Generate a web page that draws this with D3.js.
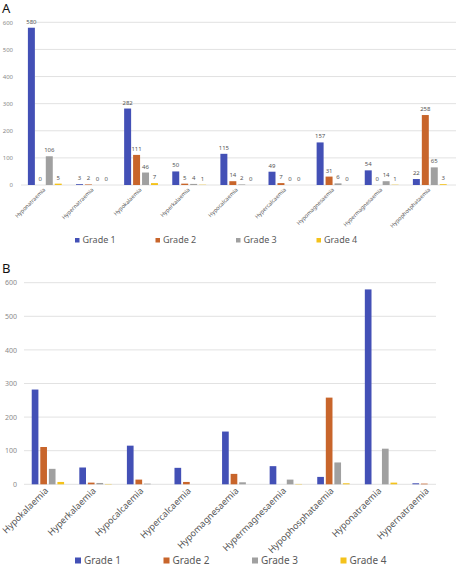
<!DOCTYPE html>
<html>
<head>
<meta charset="utf-8">
<script src="https://cdn.jsdelivr.net/npm/d3@7"></script>
<style>
  body { margin: 0; background: #fff; }
  svg { display: block; font-family: "Noto Sans", sans-serif; }
</style>
</head>
<body>
<div id="wrapper"></div>
<script>
const grades = ["Grade 1", "Grade 2", "Grade 3", "Grade 4"]
const colors = ["#4350b6", "#c8652b", "#a0a0a0", "#f4c21b"]

// panel A
const categoriesA = ["Hyponatraemia", "Hypernatraemia", "Hypokalaemia", "Hyperkalaemia",
  "Hypocalcaemia", "Hypercalcaemia", "Hypomagnesaemia", "Hypermagnesaemia", "Hypophosphataemia"]
const grade1A = [580, 3, 282, 50, 115, 49, 157, 54, 22]
const grade2A = [0, 2, 111, 5, 14, 7, 31, 0, 258]
const grade3A = [106, 0, 46, 4, 2, 0, 6, 14, 65]
const grade4A = [5, 0, 7, 1, 0, 0, 0, 1, 3]

// panel B (same values, new order)
const categoriesB = ["Hypokalaemia", "Hyperkalaemia", "Hypocalcaemia", "Hypercalcaemia",
  "Hypomagnesaemia", "Hypermagnesaemia", "Hypophosphataemia", "Hyponatraemia", "Hypernatraemia"]
const grade1B = [282, 50, 115, 49, 157, 54, 22, 580, 3]
const grade2B = [111, 5, 14, 7, 31, 0, 258, 0, 2]
const grade3B = [46, 4, 2, 0, 6, 14, 65, 106, 0]
const grade4B = [7, 1, 0, 0, 0, 1, 3, 5, 0]

const yTicks = [0, 100, 200, 300, 400, 500, 600]

const width = 457
const height = 566

const svg = d3.select("#wrapper")
  .append("svg")
  .attr("width", width)
  .attr("height", height)

const drawPanel = (opts) => {
  const { letter, letterY, cats, series, xRange, xPad, yRange, gridX, labels,
    tickFont, tickRight, catFont, catOffset, legendY, legendX, legendFont, legendBox } = opts

  const rows = cats.map((c, i) => ({ cat: c, values: series.map(s => s[i]) }))

  const x0 = d3.scaleBand()
    .domain(cats)
    .range(xRange)
    .paddingInner(xPad)
    .paddingOuter(xPad)

  const x1 = d3.scaleBand()
    .domain(grades)
    .range([0, x0.bandwidth()])
    .paddingInner(0.22)

  const y = d3.scaleLinear()
    .domain([0, 600])
    .range(yRange)

  const g = svg.append("g")

  g.append("text")
    .attr("x", 2)
    .attr("y", letterY)
    .attr("font-size", 13)
    .attr("fill", "#111")
    .text(letter)

  // gridlines
  g.append("g")
    .selectAll("line")
    .data(yTicks)
    .join("line")
    .attr("x1", d => d === 0 ? gridX[0] - (opts.baseExtra || 0) : gridX[0])
    .attr("x2", gridX[1])
    .attr("y1", d => y(d))
    .attr("y2", d => y(d))
    .attr("stroke", "#e2e2e2")
    .attr("stroke-width", 1)

  // y axis labels
  const yAxis = d3.axisLeft(y)
    .tickValues(yTicks)
    .tickSize(0)
    .tickPadding(0)
  g.append("g")
    .attr("transform", `translate(${tickRight},0)`)
    .call(yAxis)
    .call(a => a.select(".domain").remove())
    .call(a => a.selectAll("text")
      .attr("font-size", tickFont)
      .attr("font-family", "Noto Sans, sans-serif")
      .attr("fill", "#8a8a8a"))

  // bars
  const groups = g.append("g")
    .selectAll("g")
    .data(rows)
    .join("g")
    .attr("transform", d => `translate(${x0(d.cat)},0)`)

  const bars = groups.selectAll("rect")
    .data(d => d.values.map((v, i) => ({ grade: grades[i], value: v, i })))
    .join("rect")
    .attr("x", d => x1(d.grade))
    .attr("y", d => y(d.value))
    .attr("width", x1.bandwidth())
    .attr("height", d => y(0) - y(d.value))
    .attr("fill", d => colors[d.i])

  if (labels) {
    groups.selectAll("text")
      .data(d => d.values.map((v, i) => ({ grade: grades[i], value: v })))
      .join("text")
      .attr("x", d => x1(d.grade) + x1.bandwidth() / 2)
      .attr("y", d => y(d.value) - 4)
      .attr("text-anchor", "middle")
      .attr("font-size", 6)
      .attr("fill", "#555")
      .text(d => d.value)
  }

  // category labels
  g.append("g")
    .selectAll("text")
    .data(cats)
    .join("text")
    .attr("transform", d =>
      `translate(${x0(d) + x0.bandwidth() / 2 + catOffset[0]},${y(0) + catOffset[1]}) rotate(-45)`)
    .attr("text-anchor", "end")
    .attr("font-size", catFont)
    .attr("fill", "#555")
    .text(d => d)

  // legend
  const legend = g.append("g")
    .selectAll("g")
    .data(grades)
    .join("g")
    .attr("transform", (d, i) => `translate(${legendX[i]},${legendY})`)
  legend.append("rect")
    .attr("x", 0)
    .attr("y", -legendBox - 0.5)
    .attr("width", legendBox)
    .attr("height", legendBox)
    .attr("fill", (d, i) => colors[i])
  legend.append("text")
    .attr("x", legendBox + 3)
    .attr("y", 0)
    .attr("font-size", legendFont)
    .attr("fill", "#595959")
    .text(d => d)
}

drawPanel({
  letter: "A",
  letterY: 13,
  cats: categoriesA,
  series: [grade1A, grade2A, grade3A, grade4A],
  xRange: [13.6, 461],
  xPad: 0.297,
  yRange: [185, 22.3],
  gridX: [35, 456],
  baseExtra: 14,
  labels: true,
  tickFont: 6,
  tickRight: 13,
  catFont: 5.5,
  catOffset: [1, 5],
  legendY: 243,
  legendX: [75, 155.5, 236, 316.5],
  legendFont: 9,
  legendBox: 4.5
})

drawPanel({
  letter: "B",
  letterY: 273,
  cats: categoriesB,
  series: [grade1B, grade2B, grade3B, grade4B],
  xRange: [16.5, 460],
  xPad: 0.32,
  yRange: [484.3, 282.7],
  gridX: [24, 436],
  labels: false,
  tickFont: 7,
  tickRight: 17,
  catFont: 9,
  catOffset: [1, 7],
  legendY: 564,
  legendX: [75, 163.5, 252, 340.5],
  legendFont: 10,
  legendBox: 6
})
</script>
</body>
</html>
